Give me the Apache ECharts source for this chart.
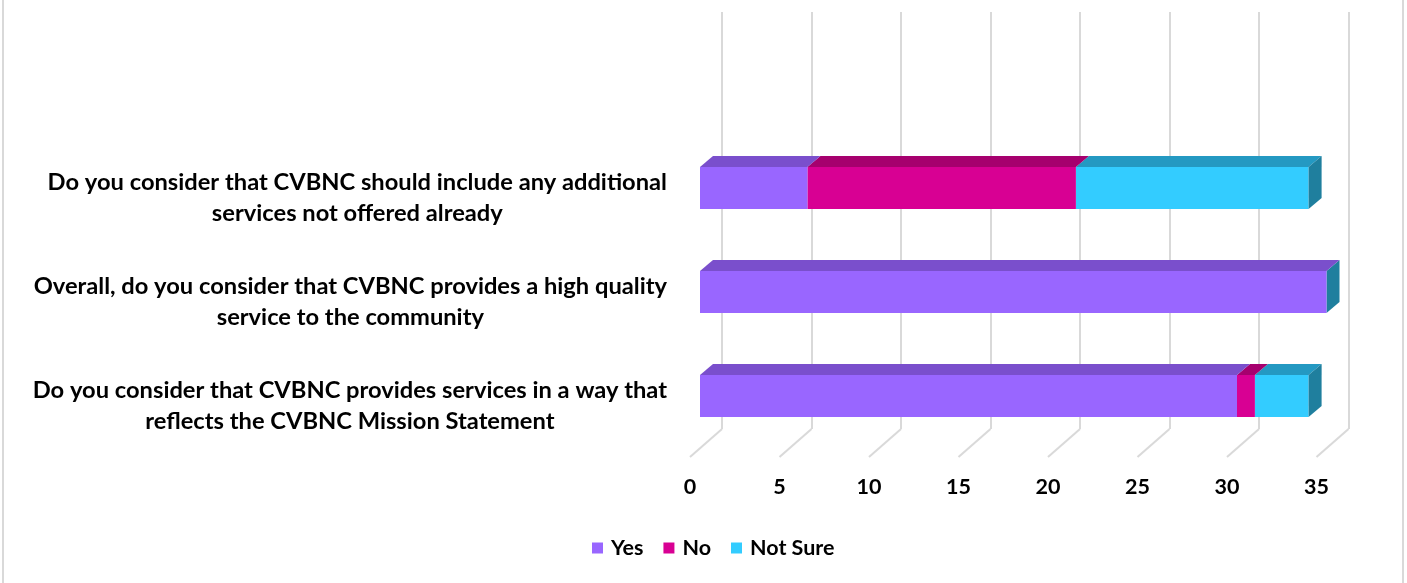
<!DOCTYPE html>
<html>
<head>
<meta charset="utf-8">
<script src="https://cdn.jsdelivr.net/npm/echarts@6/dist/echarts.min.js"></script>
<style>html,body{margin:0;padding:0;background:#fff}#c{width:1407px;height:583px}</style>
</head>
<body>
<div id="c"></div>
<script>
// Data (bottom to top)
const categories = [
  ['Do you consider that CVBNC provides services in a way that', 'reflects the CVBNC Mission Statement'],
  ['Overall, do you consider that CVBNC provides a high quality', 'service to the community'],
  ['Do you consider that CVBNC should include any additional', 'services not offered already']
];
const seriesNames = ['Yes', 'No', 'Not Sure'];
const yesValues = [30, 35, 6];
const noValues = [1, 0, 15];
const notSureValues = [3, 0, 13];
const xTicks = [0, 5, 10, 15, 20, 25, 30, 35];

const valueSets = [yesValues, noValues, notSureValues];
const frontColors = ['#9966FF', '#D80093', '#33CCFF'];
const topColors = ['#7A4FCC', '#A6006E', '#2499C2'];
const sideColor = '#1F7F9E';
const DX = 13, DY = 11;
const FONT = 'Lato';

function makeData(si) {
  return categories.map((c, ci) => {
    let start = 0;
    for (let k = 0; k < si; k++) start += valueSets[k][ci];
    return [ci, start, start + valueSets[si][ci]];
  });
}

function barRender(si) {
  return function (params, api) {
    const ci = api.value(0), s = api.value(1), e = api.value(2);
    const p0 = api.coord([s, ci]);
    const p1 = api.coord([e, ci]);
    const h = api.size([0, 1])[1] * 0.404;
    const top = p0[1] - h / 2, bot = p0[1] + h / 2;
    const x0 = p0[0], x1 = p1[0];
    const children = [];
    if (x1 - x0 > 0.01) {
      children.push({ type: 'rect', shape: { x: x0, y: top, width: x1 - x0, height: h }, style: { fill: frontColors[si] } });
      children.push({ type: 'polygon', shape: { points: [[x0, top], [x1, top], [x1 + DX, top - DY], [x0 + DX, top - DY]] }, style: { fill: topColors[si] } });
    }
    if (si === seriesNames.length - 1) {
      children.push({ type: 'polygon', shape: { points: [[x1, top], [x1 + DX, top - DY], [x1 + DX, bot - DY], [x1, bot]] }, style: { fill: sideColor } });
    }
    return { type: 'group', children };
  };
}

const chart = echarts.init(document.getElementById('c'), null, { renderer: 'canvas' });

const series = seriesNames.map((n, si) => ({
  name: n,
  type: 'custom',
  xAxisIndex: 0, yAxisIndex: 0,
  itemStyle: { color: frontColors[si] },
  renderItem: barRender(si),
  encode: { x: [1, 2], y: 0 },
  data: makeData(si),
  z: 5 + (seriesNames.length - si)
}));

series.push({
  name: 'floor',
  type: 'custom',
  xAxisIndex: 1, yAxisIndex: 1,
  silent: true,
  renderItem: function (params, api) {
    const p = api.coord([api.value(0), 0]);
    return { type: 'line', shape: { x1: p[0], y1: p[1], x2: p[0] - 32, y2: p[1] + 28 }, style: { stroke: '#D9D9D9', lineWidth: 2 } };
  },
  encode: { x: 0, y: 1 },
  data: xTicks.map(t => [t, 0]),
  z: 1
});

chart.setOption({
  animation: false,
  backgroundColor: '#fff',
  graphic: [
    { type: 'line', shape: { x1: 3, y1: 0, x2: 3, y2: 583 }, style: { stroke: '#D9D9D9', lineWidth: 2 } },
    { type: 'line', shape: { x1: 1403, y1: 0, x2: 1403, y2: 583 }, style: { stroke: '#D9D9D9', lineWidth: 2 } }
  ],
  legend: {
    data: seriesNames,
    bottom: 19,
    left: 587,
    icon: 'rect',
    itemWidth: 11,
    itemHeight: 11,
    itemGap: 20,
    textStyle: { fontFamily: FONT, fontWeight: 'bold', fontSize: 21.5, color: '#000', padding: [0, 0, 0, 3] }
  },
  grid: [
    { left: 700, width: 626.5, top: 136, height: 312 },
    { left: 722, width: 626.5, top: 12, height: 417 },
    { left: 690, width: 626.5, top: 12, height: 445 }
  ],
  xAxis: [
    { gridIndex: 0, type: 'value', min: 0, max: 35, interval: 5, show: false, splitLine: { show: false } },
    { gridIndex: 1, type: 'value', min: 0, max: 35, interval: 5, axisLabel: { show: false }, axisLine: { show: false }, axisTick: { show: false },
      splitLine: { show: true, lineStyle: { color: '#D9D9D9', width: 2 } } },
    { gridIndex: 2, type: 'value', min: 0, max: 35, interval: 5, axisLine: { show: false }, axisTick: { show: false }, splitLine: { show: false },
      axisLabel: { margin: 19, fontFamily: FONT, fontWeight: 'bold', fontSize: 21.5, color: '#000',
        formatter: v => xTicks.indexOf(v) >= 0 ? String(v) : '' } }
  ],
  yAxis: [
    { gridIndex: 0, type: 'category', data: categories.map(c => c.join('\n')),
      axisLine: { show: false }, axisTick: { show: false }, splitLine: { show: false },
      axisLabel: { margin: 33, padding: [20, 0, 0, 0],
        formatter: v => v.split('\n').map(l => '{a|' + l + '}').join('\n'),
        rich: { a: { align: 'center', fontFamily: FONT, fontWeight: 'bold', fontSize: 23.7, color: '#000', lineHeight: 31 } } } },
    { gridIndex: 1, type: 'value', min: 0, max: 1, show: false, splitLine: { show: false } },
    { gridIndex: 2, type: 'value', min: 0, max: 1, show: false, splitLine: { show: false } }
  ],
  series: series
});
</script>
</body>
</html>
